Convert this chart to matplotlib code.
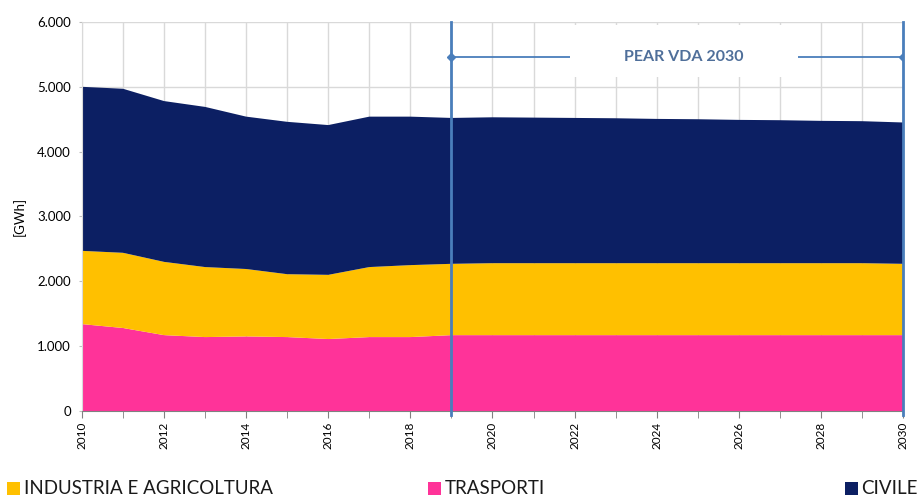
import numpy as np
import matplotlib
matplotlib.use("Agg")
import matplotlib.pyplot as plt
from matplotlib.patches import Rectangle
from matplotlib.ticker import FuncFormatter

plt.rcParams['font.family'] = ['Lato', 'DejaVu Sans']

years = np.arange(2010, 2031)
trasporti = [1340, 1280, 1170, 1140, 1150, 1140, 1110, 1140, 1140, 1170,
             1170, 1170, 1170, 1170, 1170, 1170, 1170, 1170, 1170, 1170, 1170]
industria = [1130, 1160, 1130, 1080, 1040, 970, 990, 1080, 1110, 1100,
             1110, 1110, 1110, 1110, 1110, 1110, 1110, 1110, 1110, 1110, 1100]
civile = [2530, 2530, 2480, 2470, 2350, 2350, 2310, 2320, 2290, 2250,
          2250, 2245, 2240, 2235, 2225, 2220, 2210, 2205, 2195, 2190, 2180]

labels = ['INDUSTRIA E AGRICOLTURA', 'TRASPORTI', 'CIVILE']
c_tra = '#FF3399'
c_ind = '#FFC000'
c_civ = '#0C1F63'
c_line = '#4A7EBB'

pear_start, pear_end = 2019, 2030
pear_level = 5460

fig = plt.figure(figsize=(9.19, 4.95), dpi=100)
ax = fig.add_axes([0.0892, 0.1697, 0.8934, 0.7859])

ax.stackplot(years, trasporti, industria, civile,
             colors=[c_tra, c_ind, c_civ], zorder=2, linewidth=0)

ax.set_xlim(2010, 2030)
ax.set_ylim(0, 6000)
ax.set_xticks(years, minor=True)
ax.set_xticks(np.arange(2010, 2031, 2))
ax.yaxis.set_major_formatter(FuncFormatter(lambda v, p: f"{int(v):,}".replace(',', '.')))
ax.set_yticks(np.arange(0, 6001, 1000))
ax.grid(True, which='both', color='#D9D9D9', linewidth=1, zorder=0)
ax.set_axisbelow(True)
ax.tick_params(axis='x', which='both', direction='out', length=5, color='#808080',
               labelrotation=90, labelsize=8.5, pad=3)
ax.tick_params(axis='y', length=2, color='#BFBFBF', labelsize=9.5, pad=6)
for s in ['top', 'right']:
    ax.spines[s].set_visible(False)
ax.spines['left'].set_color('#D9D9D9')
ax.spines['bottom'].set_color('#808080')
ax.set_ylabel('[GWh]', fontsize=9.5, labelpad=8)

# scenario window
for x in (pear_start, pear_end):
    ax.axvline(x, color=c_line, linewidth=2, zorder=4, clip_on=False, ymin=-0.01, ymax=1)
ax.plot([pear_start, pear_end], [pear_level, pear_level], color=c_line, linewidth=1.3,
        marker='D', markersize=4, zorder=4)
ax.add_patch(Rectangle((2021.9, 5150), 5.55, 810, facecolor='white', edgecolor='none', zorder=5))
ax.text(2024.65, pear_level, 'PEAR VDA 2030', ha='center', va='center', fontsize=11.5,
        fontweight='bold', color='#4F6F9A', zorder=6)

# legend along the bottom edge
leg_x = [0.008, 0.466, 0.919]
for x0, lab, col in zip(leg_x, labels, [c_ind, c_tra, c_civ]):
    fig.patches.append(Rectangle((x0, 0.0), 0.0141, 0.026, transform=fig.transFigure,
                                 facecolor=col, edgecolor='none'))
    fig.text(x0 + 0.018, 0.003, lab, fontsize=13.5, color='#1A1A1A', va='baseline', ha='left')

fig.savefig('out.png', dpi=100)
